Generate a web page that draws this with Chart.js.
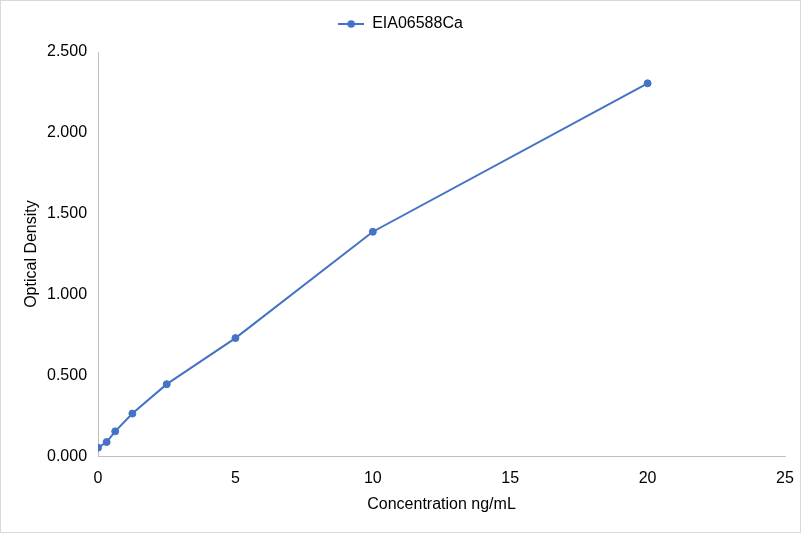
<!DOCTYPE html>
<html>
<head>
<meta charset="utf-8">
<script src="https://cdn.jsdelivr.net/npm/chart.js@4/dist/chart.umd.min.js"></script>
<style>
  html, body { margin: 0; padding: 0; background: #fff; }
  #wrap { width: 801px; height: 533px; box-sizing: border-box; border: 1px solid #d9d9d9; position: relative; }
  canvas { display: block; }
</style>
</head>
<body>
<div id="wrap"><canvas id="chart"></canvas></div>
<script>
const concentrations = [0, 0.3125, 0.625, 1.25, 2.5, 5, 10, 20];
const opticalDensity = [0.052, 0.087, 0.153, 0.263, 0.445, 0.730, 1.388, 2.306];
const seriesName = 'EIA06588Ca';
const xTitle = 'Concentration ng/mL';
const yTitle = 'Optical Density';

const blue = '#4472c4';
const font = 'Arial, "Liberation Sans", sans-serif';

// legend marker: short line with a dot in the middle
const marker = document.createElement('canvas');
marker.width = 26;
marker.height = 10;
const mc = marker.getContext('2d');
mc.strokeStyle = blue;
mc.lineWidth = 2;
mc.beginPath();
mc.moveTo(0, 5);
mc.lineTo(26, 5);
mc.stroke();
mc.fillStyle = blue;
mc.beginPath();
mc.arc(13, 5, 3.8, 0, Math.PI * 2);
mc.fill();

// legend: extra room under it, and nudge it to the page centre
const legendTweak = {
  id: 'legendTweak',
  afterInit(chart) {
    const lg = chart.legend;
    const fit = lg.fit;
    lg.fit = function () {
      fit.call(this);
      this.height += 10;
    };
  },
  beforeDraw(chart) {
    chart.legend.left += 7.5;
    chart.legend.right += 7.5;
  }
};

const ctx = document.getElementById('chart');
new Chart(ctx, {
  type: 'scatter',
  data: {
    datasets: [{
      label: seriesName,
      data: concentrations.map((x, i) => ({ x: x, y: opticalDensity[i] })),
      showLine: true,
      borderColor: blue,
      backgroundColor: blue,
      borderWidth: 2,
      pointRadius: 3.5,
      pointBorderWidth: 1,
      pointHoverRadius: 3.5,
    }]
  },
  options: {
    responsive: true,
    maintainAspectRatio: false,
    animation: { duration: 0 },
    events: [],
    layout: { padding: { left: 0, right: 15, top: 0, bottom: 13.5 } },
    plugins: {
      tooltip: { enabled: false },
      legend: {
        position: 'top',
        labels: {
          usePointStyle: true,
          pointStyle: marker,
          pointStyleWidth: 26,
          color: '#000',
          font: { family: font, size: 16 },
          padding: 15,
        }
      }
    },
    scales: {
      x: {
        type: 'linear',
        min: 0,
        max: 25,
        // the label padding would otherwise widen the right margin
        afterFit: scale => { scale.paddingRight = 15; },
        ticks: { stepSize: 5, color: '#000', font: { family: font, size: 16 }, padding: 13 },
        grid: { display: false, drawTicks: false },
        border: { display: true, color: '#bfbfbf', width: 1 },
        title: { display: true, text: xTitle, color: '#000', font: { family: font, size: 16 }, padding: { top: -6, bottom: 4 } }
      },
      y: {
        type: 'linear',
        min: 0,
        max: 2.5,
        ticks: {
          stepSize: 0.5, color: '#000', font: { family: font, size: 16 }, padding: 11,
          callback: v => v.toFixed(3)
        },
        grid: { display: false, drawTicks: false },
        border: { display: true, color: '#bfbfbf', width: 1 },
        title: { display: true, text: yTitle, color: '#000', font: { family: font, size: 16 }, padding: { top: 21.4, bottom: -5.6 } }
      }
    }
  },
  plugins: [legendTweak]
});
</script>
</body>
</html>
